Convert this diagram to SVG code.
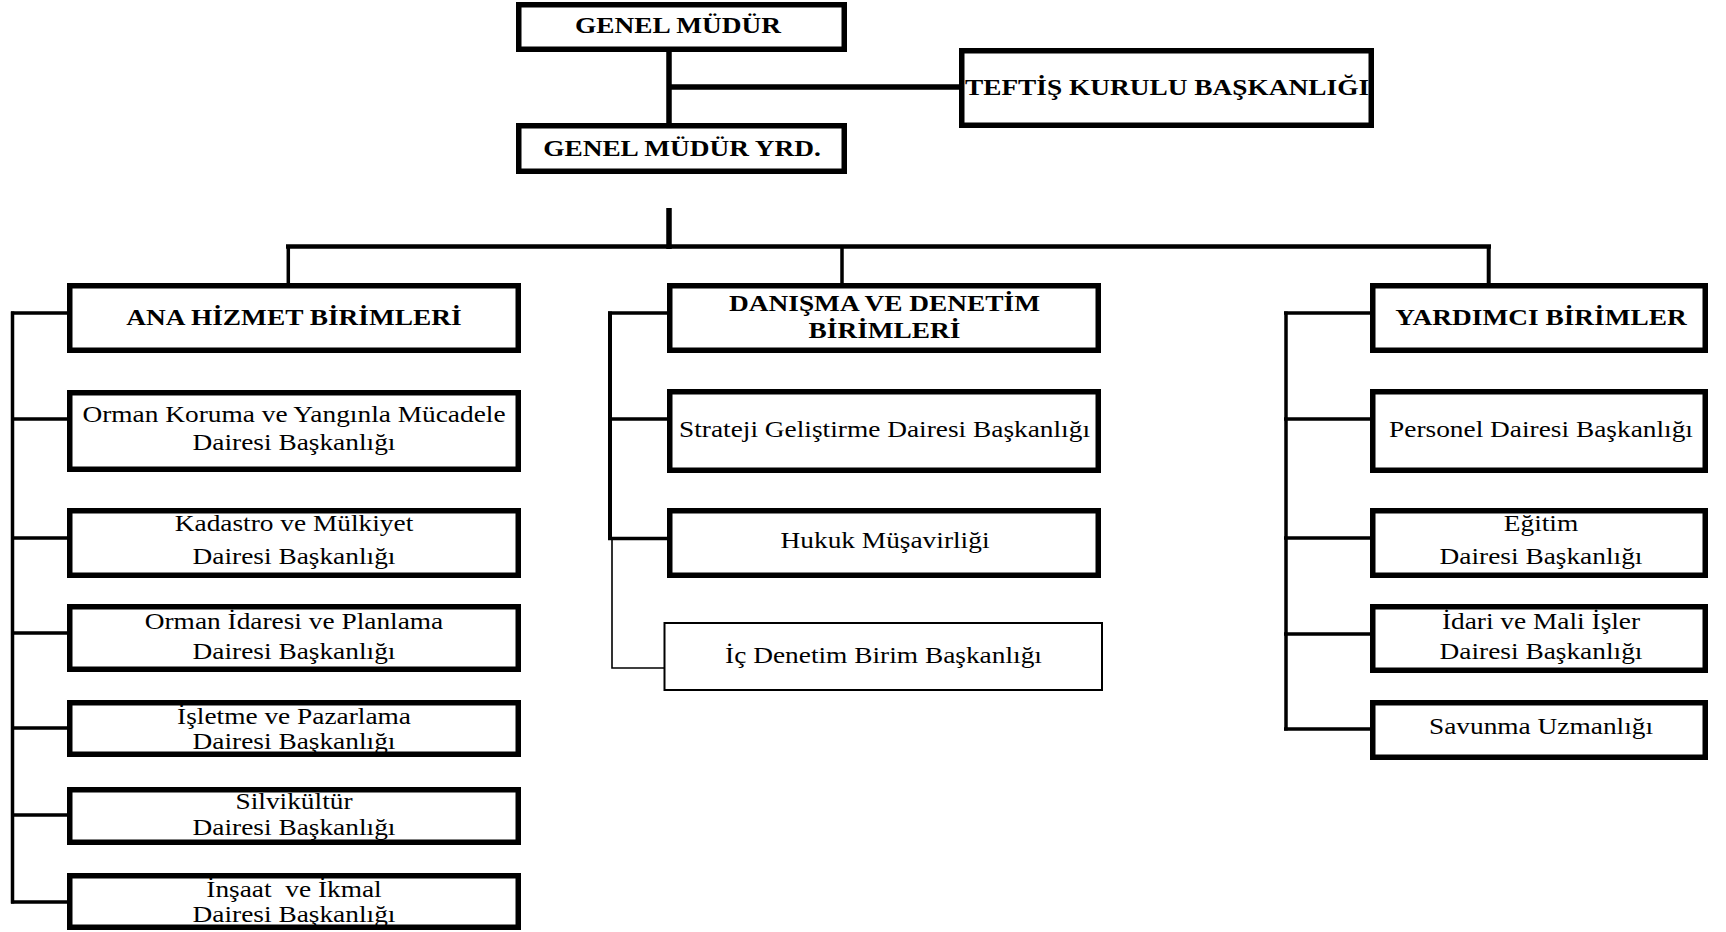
<svg xmlns="http://www.w3.org/2000/svg" width="1726" height="932" viewBox="0 0 1726 932">
<style>
  .bx{fill:#fff;stroke:#000;stroke-width:5.5}
  .bt{fill:#fff;stroke:#000;stroke-width:2}
  .b{font-family:"Liberation Serif","Times New Roman",serif;font-weight:bold;font-size:24px;fill:#000;text-anchor:middle}
  .r{font-family:"Liberation Serif","Times New Roman",serif;font-size:23px;fill:#000;text-anchor:middle}
  .c{fill:none;stroke:#000;stroke-linecap:butt}
</style>
<rect width="1726" height="932" fill="#fff"/>
<g id="connectors">
  <path class="c" stroke-width="5.5" d="M669 52V123M669 87H959M669 208V249"/>
  <path class="c" stroke-width="4.7" d="M286 246.5H1491"/>
  <path class="c" stroke-width="3.5" d="M288.3 246V283M842 246V283"/>
  <path class="c" stroke-width="4" d="M1488.7 246V283"/>
  <path class="c" stroke-width="3.5" d="M12.5 311.5V903.5"/>
  <path class="c" stroke-width="3.3" d="M11 313H67M11 419H67M11 538H67M11 633H67M11 728H67M11 815H67M11 902H67"/>
  <path class="c" stroke-width="4" d="M610 311.5V540"/>
  <path class="c" stroke-width="3.3" d="M608 313H667M608 419H667M608 538.5H667"/>
  <path class="c" stroke-width="1.6" d="M612 539V668H664"/>
  <path class="c" stroke-width="3.5" d="M1286 311.5V730.5"/>
  <path class="c" stroke-width="3.3" d="M1284 313H1370M1284 419H1370M1284 538H1370M1284 634H1370M1284 729H1370"/>
</g>
<g id="genel-mudur">
  <rect class="bx" x="518.75" y="4.75" width="325.5" height="44.5"/>
  <text class="b" transform="translate(678 0) scale(1.14 1)"><tspan x="0" y="33">GENEL MÜDÜR</tspan></text>
</g>
<g id="teftis">
  <rect class="bx" x="961.75" y="50.75" width="409.5" height="74.5"/>
  <text class="b" transform="translate(1167 0) scale(1.14 1)"><tspan x="0" y="95">TEFTİŞ KURULU BAŞKANLIĞI</tspan></text>
</g>
<g id="genel-mudur-yrd">
  <rect class="bx" x="518.75" y="125.75" width="325.5" height="45.5"/>
  <text class="b" transform="translate(682 0) scale(1.14 1)"><tspan x="0" y="156">GENEL MÜDÜR YRD.</tspan></text>
</g>
<g id="ana-hizmet">
  <rect class="bx" x="69.75" y="285.75" width="448.5" height="64.5"/>
  <text class="b" transform="translate(294 0) scale(1.14 1)"><tspan x="0" y="325">ANA HİZMET BİRİMLERİ</tspan></text>
</g>
<g id="orman-koruma">
  <rect class="bx" x="69.75" y="392.75" width="448.5" height="76.5"/>
  <text class="r" transform="translate(294 0) scale(1.19 1)"><tspan x="0" y="422">Orman Koruma ve Yangınla Mücadele</tspan><tspan x="0" y="450">Dairesi Başkanlığı</tspan></text>
</g>
<g id="kadastro">
  <rect class="bx" x="69.75" y="510.75" width="448.5" height="64.5"/>
  <text class="r" transform="translate(294 0) scale(1.19 1)"><tspan x="0" y="531">Kadastro ve Mülkiyet</tspan><tspan x="0" y="564">Dairesi Başkanlığı</tspan></text>
</g>
<g id="orman-idaresi">
  <rect class="bx" x="69.75" y="606.75" width="448.5" height="62.5"/>
  <text class="r" transform="translate(294 0) scale(1.19 1)"><tspan x="0" y="629">Orman İdaresi ve Planlama</tspan><tspan x="0" y="659">Dairesi Başkanlığı</tspan></text>
</g>
<g id="isletme">
  <rect class="bx" x="69.75" y="702.75" width="448.5" height="51.5"/>
  <text class="r" transform="translate(294 0) scale(1.19 1)"><tspan x="0" y="724">İşletme ve Pazarlama</tspan><tspan x="0" y="749">Dairesi Başkanlığı</tspan></text>
</g>
<g id="silvikultur">
  <rect class="bx" x="69.75" y="789.75" width="448.5" height="52.5"/>
  <text class="r" transform="translate(294 0) scale(1.19 1)"><tspan x="0" y="809">Silvikültür</tspan><tspan x="0" y="835">Dairesi Başkanlığı</tspan></text>
</g>
<g id="insaat">
  <rect class="bx" x="69.75" y="875.75" width="448.5" height="51.5"/>
  <text class="r" xml:space="preserve" transform="translate(294 0) scale(1.19 1)"><tspan x="0" y="897">İnşaat  ve İkmal</tspan><tspan x="0" y="922">Dairesi Başkanlığı</tspan></text>
</g>
<g id="danisma">
  <rect class="bx" x="669.75" y="285.75" width="428.5" height="64.5"/>
  <text class="b" transform="translate(884.5 0) scale(1.14 1)"><tspan x="0" y="311">DANIŞMA VE DENETİM</tspan><tspan x="0" y="338">BİRİMLERİ</tspan></text>
</g>
<g id="strateji">
  <rect class="bx" x="669.75" y="391.75" width="428.5" height="78.5"/>
  <text class="r" transform="translate(884.5 0) scale(1.19 1)"><tspan x="0" y="437">Strateji Geliştirme Dairesi Başkanlığı</tspan></text>
</g>
<g id="hukuk">
  <rect class="bx" x="669.75" y="510.75" width="428.5" height="64.5"/>
  <text class="r" transform="translate(885 0) scale(1.19 1)"><tspan x="0" y="548">Hukuk Müşavirliği</tspan></text>
</g>
<g id="ic-denetim">
  <rect class="bt" x="664.5" y="623" width="437.5" height="67"/>
  <text class="r" transform="translate(883.5 0) scale(1.19 1)"><tspan x="0" y="663">İç Denetim Birim Başkanlığı</tspan></text>
</g>
<g id="yardimci">
  <rect class="bx" x="1372.75" y="285.75" width="332.5" height="64.5"/>
  <text class="b" transform="translate(1541 0) scale(1.14 1)"><tspan x="0" y="325">YARDIMCI BİRİMLER</tspan></text>
</g>
<g id="personel">
  <rect class="bx" x="1372.75" y="391.75" width="332.5" height="78.5"/>
  <text class="r" transform="translate(1541 0) scale(1.19 1)"><tspan x="0" y="437">Personel Dairesi Başkanlığı</tspan></text>
</g>
<g id="egitim">
  <rect class="bx" x="1372.75" y="510.75" width="332.5" height="64.5"/>
  <text class="r" transform="translate(1541 0) scale(1.19 1)"><tspan x="0" y="531">Eğitim</tspan><tspan x="0" y="564">Dairesi Başkanlığı</tspan></text>
</g>
<g id="idari-mali">
  <rect class="bx" x="1372.75" y="606.75" width="332.5" height="63.5"/>
  <text class="r" transform="translate(1541 0) scale(1.19 1)"><tspan x="0" y="629">İdari ve Mali İşler</tspan><tspan x="0" y="659">Dairesi Başkanlığı</tspan></text>
</g>
<g id="savunma">
  <rect class="bx" x="1372.75" y="702.75" width="332.5" height="54.5"/>
  <text class="r" transform="translate(1541 0) scale(1.19 1)"><tspan x="0" y="734">Savunma Uzmanlığı</tspan></text>
</g>
</svg>
